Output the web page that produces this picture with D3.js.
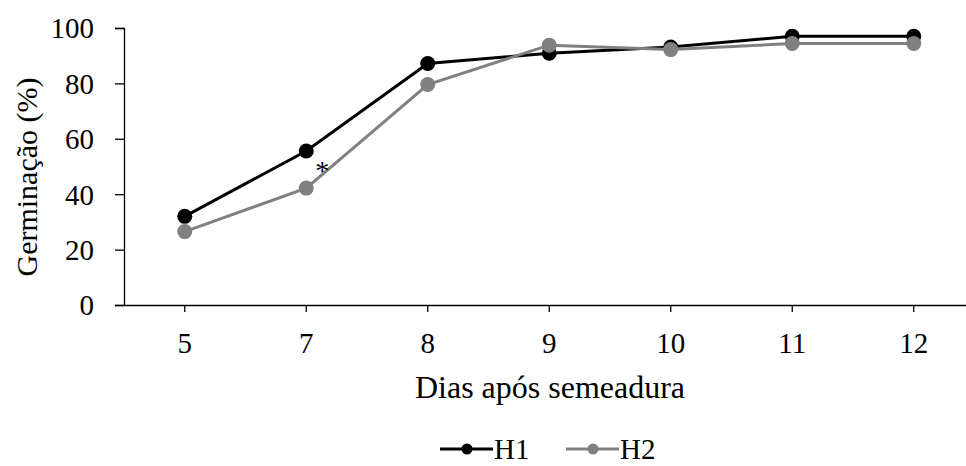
<!DOCTYPE html>
<html>
<head>
<meta charset="utf-8">
<script src="https://cdn.jsdelivr.net/npm/d3@7"></script>
<style>
  body { margin: 0; background: #fff; }
  svg text { font-family: "Liberation Serif", "Times New Roman", serif !important; }
</style>
</head>
<body>
<svg id="chart" width="966" height="466"></svg>
<script>
const days = ['5', '7', '8', '9', '10', '11', '12']
const h1 = [32, 55.6, 87.2, 90.9, 93.1, 97, 97]
const h2 = [26.5, 42.2, 79.6, 93.8, 92.2, 94.4, 94.4]
const yTicks = [0, 20, 40, 60, 80, 100]
const marks = [{ day: '7', value: 42.2, text: '*' }]

const series = [
  { name: 'H1', values: h1, color: '#000000' },
  { name: 'H2', values: h2, color: '#808080' }
]

const svg = d3.select('#chart')
const plotLeft = 124, plotTop = 28, plotBottom = 305, step = 121.5

const x = d3.scaleBand().domain(days).range([plotLeft, plotLeft + step * days.length]).padding(0)
const y = d3.scaleLinear().domain([0, 100]).range([plotBottom, plotTop])
const cx = d => x(d) + x.bandwidth() / 2

// y axis
const yAxis = svg.append('g')
  .attr('transform', 'translate(' + plotLeft + ',0)')
  .call(d3.axisLeft(y).tickValues(yTicks).tickSize(9).tickPadding(21))
yAxis.select('.domain').attr('stroke', '#000').attr('stroke-width', 1.3)
yAxis.selectAll('.tick line').attr('stroke', '#000').attr('stroke-width', 1.3)
yAxis.selectAll('text').style('font-size', '29px').attr('fill', '#000').attr('dy', '0.34em')

// x axis
const xAxis = svg.append('g')
  .attr('transform', 'translate(0,' + plotBottom + ')')
  .call(d3.axisBottom(x).tickSizeInner(7).tickSizeOuter(0).tickPadding(20))
xAxis.select('.domain').attr('stroke', '#000').attr('stroke-width', 1.3)
xAxis.selectAll('.tick line').attr('stroke', '#000').attr('stroke-width', 1.3)
xAxis.selectAll('text').style('font-size', '29px').attr('fill', '#000')

// axis titles
svg.append('text')
  .attr('transform', 'translate(37,177) rotate(-90)')
  .attr('text-anchor', 'middle')
  .style('font-size', '30px')
  .text('Germinação (%)')

svg.append('text')
  .attr('x', 550)
  .attr('y', 398)
  .attr('text-anchor', 'middle')
  .style('font-size', '32px')
  .text('Dias após semeadura')

// lines + markers
const line = d3.line()
  .x((d, i) => cx(days[i]))
  .y(d => y(d))

series.forEach(s => {
  const g = svg.append('g')
  g.append('path')
    .datum(s.values)
    .attr('d', line)
    .attr('fill', 'none')
    .attr('stroke', s.color)
    .attr('stroke-width', 3)
  g.selectAll('circle')
    .data(s.values)
    .enter().append('circle')
    .attr('cx', (d, i) => cx(days[i]))
    .attr('cy', d => y(d))
    .attr('r', 7.5)
    .attr('fill', s.color)
})

// significance mark
svg.selectAll('.mark')
  .data(marks)
  .enter().append('text')
  .attr('class', 'mark')
  .attr('x', d => cx(d.day) + 16)
  .attr('y', d => y(d.value) - 8)
  .attr('text-anchor', 'middle')
  .style('font-size', '28px')
  .text(d => d.text)

// legend
const legend = svg.append('g').attr('transform', 'translate(440,449)')
const item = legend.selectAll('g')
  .data(series)
  .enter().append('g')
  .attr('transform', (d, i) => 'translate(' + i * 126 + ',0)')
item.append('line')
  .attr('x1', 0).attr('x2', 53)
  .attr('stroke', d => d.color)
  .attr('stroke-width', 3)
item.append('circle')
  .attr('cx', 27).attr('r', 5.5)
  .attr('fill', d => d.color)
item.append('text')
  .attr('x', 54)
  .attr('dy', '0.35em')
  .style('font-size', '29px')
  .text(d => d.name)
</script>
</body>
</html>
